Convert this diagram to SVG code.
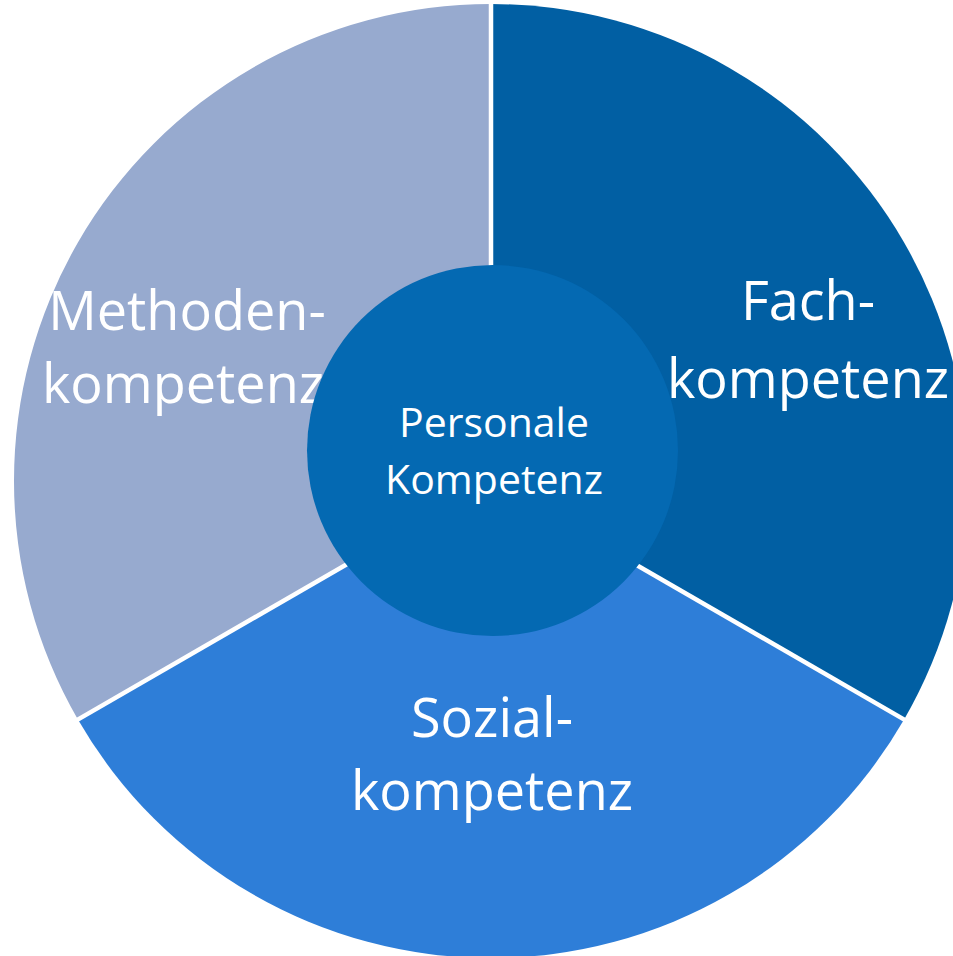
<svg xmlns="http://www.w3.org/2000/svg" width="953" height="956" viewBox="0 0 953 956">
<style>
.lbl{font-family:"Open Sans","Noto Sans","Liberation Sans",sans-serif;fill:#ffffff;text-anchor:middle}
.big{font-size:54px}
.small{font-size:41px}
.sep{stroke:#ffffff;stroke-width:4.5;fill:none}
</style>
<rect width="953" height="956" fill="#ffffff"/>
<g id="methoden">
<path d="M491,481 L491,4 A477,477 0 0 0 77.9,719.5 Z" fill="#97AACF"/>
<text class="lbl big" x="187" y="330">Methoden-</text>
<text class="lbl big" x="183" y="403">kompetenz</text>
</g>
<g id="fach">
<path d="M491,481 L491,4 A477,477 0 0 1 904.1,719.5 Z" fill="#015FA3"/>
<text class="lbl big" x="808" y="320">Fach-</text>
<text class="lbl big" x="808" y="398">kompetenz</text>
</g>
<g id="sozial">
<path d="M491,481 L904.1,719.5 A477,477 0 0 1 77.9,719.5 Z" fill="#2E7ED8"/>
<text class="lbl big" x="492" y="737">Sozial-</text>
<text class="lbl big" x="492" y="810">kompetenz</text>
</g>
<g id="connectors">
<line class="sep" x1="491" y1="481" x2="491" y2="2"/>
<line class="sep" x1="491" y1="481" x2="76" y2="720.6"/>
<line class="sep" x1="491" y1="481" x2="906" y2="720.6"/>
</g>
<g id="personale">
<circle cx="492.5" cy="450.5" r="185.5" fill="#0469B2"/>
<text class="lbl small" x="494" y="437">Personale</text>
<text class="lbl small" x="494" y="494">Kompetenz</text>
</g>
</svg>
